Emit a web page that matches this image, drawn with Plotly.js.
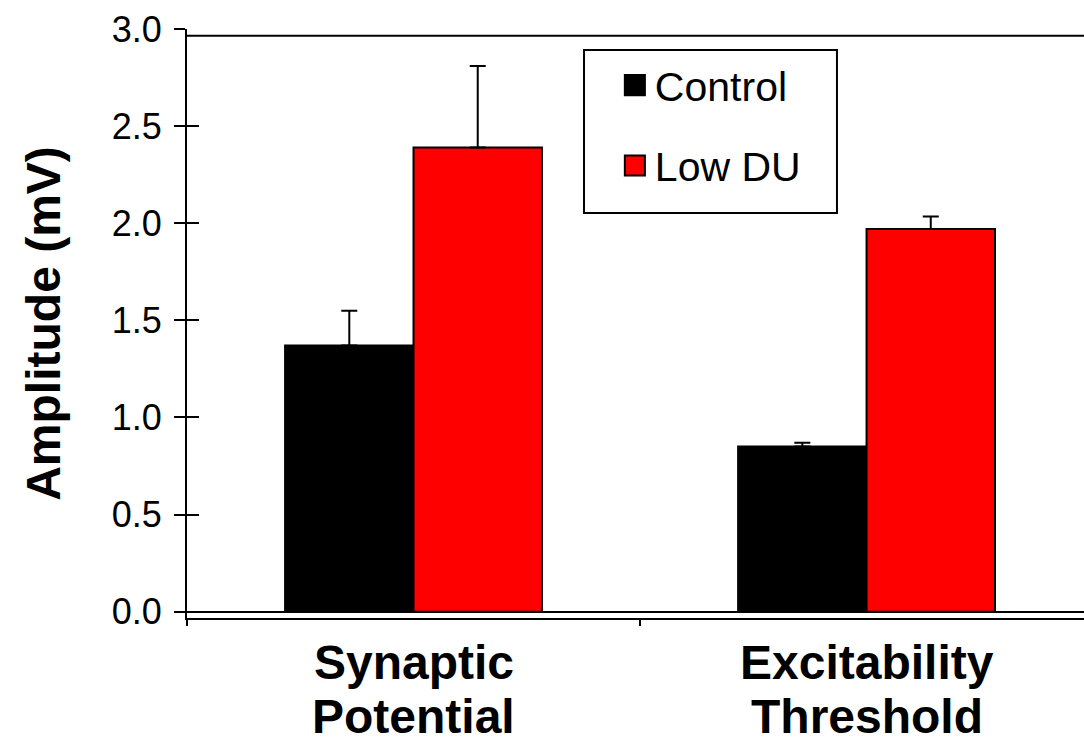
<!DOCTYPE html>
<html>
<head>
<meta charset="utf-8">
<script src="https://cdn.plot.ly/plotly-3.0.1.min.js"></script>
<style>
  html, body { margin: 0; padding: 0; background: #fff; }
  #chart { width: 1084px; height: 744px; }
</style>
</head>
<body>
<div id="chart"></div>
<script>
// ---- data ----
const categories = ['Synaptic Potential', 'Excitability Threshold'];
const labelLine1 = ['Synaptic', 'Excitability'];
const labelLine2 = ['Potential', 'Threshold'];
const controlMean = [1.37, 0.85];
const controlErr = [0.18, 0.02];
const lowDUMean = [2.39, 1.97];
const lowDUErr = [0.42, 0.065];
const zeroMinus = [0, 0];
const yTickVals = [0, 0.5, 1.0, 1.5, 2.0, 2.5, 3.0];
const yTickText = ['0.0', '0.5', '1.0', '1.5', '2.0', '2.5', '3.0'];
const seriesNames = ['Control', 'Low DU'];
const yTitle = 'Amplitude (mV)';

const FONT = 'Arial, "Liberation Sans", sans-serif';
const yRange = [-0.0324, 3.0];
const frameTop = 2.965;

const traces = [
  {
    type: 'bar', name: seriesNames[0], x: categories, y: controlMean,
    marker: { color: '#000000', line: { color: '#000000', width: 2 } },
    error_y: { type: 'data', symmetric: false, array: controlErr, arrayminus: zeroMinus,
               color: '#000000', thickness: 2, width: 8 },
    legendgroup: 'a', hoverinfo: 'none'
  },
  {
    type: 'bar', name: seriesNames[1], x: categories, y: lowDUMean,
    marker: { color: '#FF0000', line: { color: '#000000', width: 2 } },
    error_y: { type: 'data', symmetric: false, array: lowDUErr, arrayminus: zeroMinus,
               color: '#000000', thickness: 2, width: 8 },
    legendgroup: 'b', hoverinfo: 'none'
  },
  // carries the overlaid inner tick marks and the axis title (no data drawn)
  { type: 'scatter', x: [], y: [], yaxis: 'y2', showlegend: false, hoverinfo: 'none' }
];

const annotations = [];
categories.forEach((c, i) => {
  annotations.push({ x: c, xref: 'x', y: 0, yref: 'paper', yanchor: 'middle', yshift: -44,
    text: '<b>' + labelLine1[i] + '</b>', showarrow: false,
    font: { family: FONT, size: 48, color: '#000' } });
  annotations.push({ x: c, xref: 'x', y: 0, yref: 'paper', yanchor: 'middle', yshift: -98,
    text: '<b>' + labelLine2[i] + '</b>', showarrow: false,
    font: { family: FONT, size: 48, color: '#000' } });
});

const layout = {
  width: 1084, height: 744,
  margin: { l: 187, r: 0, t: 29, b: 126, pad: 0 },
  paper_bgcolor: '#ffffff', plot_bgcolor: '#ffffff',
  font: { family: FONT, color: '#000' },
  barmode: 'group', bargap: 0.433, bargroupgap: 0,
  showlegend: true,
  legend: {
    x: 0.477, xanchor: 'left', y: 0.961, yanchor: 'top',
    bgcolor: 'rgba(0,0,0,0)', borderwidth: 0,
    font: { family: FONT, size: 41, color: '#000' },
    traceorder: 'grouped', tracegroupgap: 24
  },
  xaxis: {
    type: 'category', range: [-0.5, 1.48], fixedrange: true,
    showline: true, linecolor: '#000', linewidth: 2,
    ticks: 'outside', tickson: 'boundaries', ticklen: 6, tickwidth: 2, tickcolor: '#000',
    showticklabels: false, showgrid: false, zeroline: false
  },
  yaxis: {
    range: yRange, fixedrange: true,
    tickvals: yTickVals, ticktext: yTickText,
    ticks: 'outside', ticklen: 11, tickwidth: 2, tickcolor: '#000',
    ticklabelstandoff: 5,
    tickfont: { family: FONT, size: 36, color: '#000' },
    showline: true, linecolor: '#000', linewidth: 2,
    showgrid: false, zeroline: true, zerolinecolor: '#000', zerolinewidth: 2
  },
  yaxis2: {
    overlaying: 'y', side: 'left', anchor: 'x', range: yRange, fixedrange: true,
    tickvals: yTickVals, ticks: 'inside', ticklen: 12, tickwidth: 2, tickcolor: '#000',
    showticklabels: false, showline: false, showgrid: false, zeroline: false,
    title: { text: '<b>' + yTitle + '</b>', font: { family: FONT, size: 48, color: '#000' }, standoff: 110 }
  },
  shapes: [
    { type: 'line', xref: 'paper', yref: 'y', x0: 0, x1: 1, y0: frameTop, y1: frameTop,
      line: { color: '#000', width: 2 } },
    { type: 'rect', xref: 'paper', yref: 'paper', x0: 0.4426, x1: 0.7246, y0: 0.6876, y1: 0.9643,
      line: { color: '#000', width: 2 }, fillcolor: 'rgba(0,0,0,0)' }
  ],
  annotations: annotations
};

Plotly.newPlot('chart', traces, layout, { displayModeBar: false, staticPlot: true }).then(function (gd) {
  // enlarge the legend swatches to match the reference's larger squares
  gd.querySelectorAll('.legend .legendpoints path').forEach(function (p) {
    var t = p.getAttribute('transform') || '';
    p.setAttribute('transform', t + ' scale(1.67)');
    p.style.vectorEffect = 'non-scaling-stroke';
  });
});
</script>
</body>
</html>
